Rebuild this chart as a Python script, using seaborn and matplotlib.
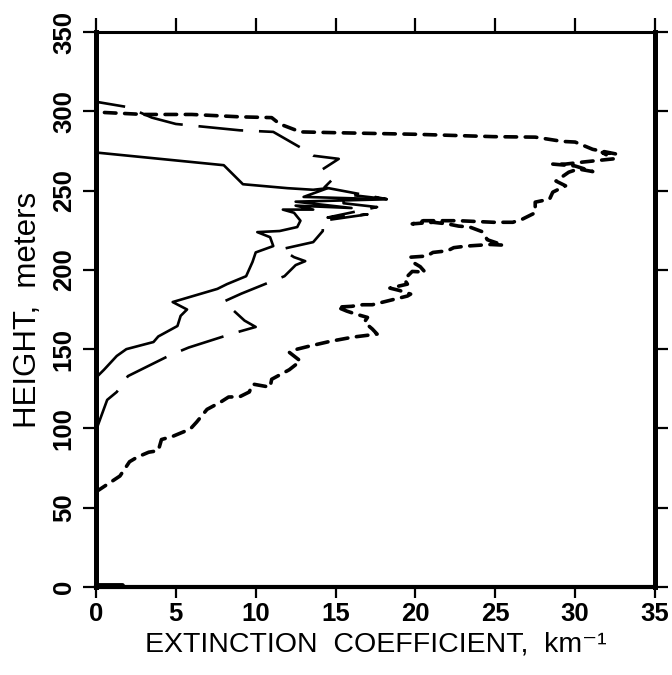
import matplotlib
matplotlib.use("Agg")
import matplotlib.pyplot as plt
import seaborn as sns

# Extinction profiles: x = extinction coefficient (km^-1), y = height (m)
solid_x = [0.0, 0.1, 0.5, 1.3, 1.9, 3.6, 3.9, 5.1, 5.3, 5.7, 4.8, 7.6, 8.2, 9.4,
           9.8, 10.0, 11.1, 10.9, 10.1, 11.5, 12.6, 12.8, 12.4, 11.7, 13.6, 12.5,
           16.0, 12.5, 18.2, 13.0, 14.5, 13.6, 12.0, 9.2, 8.6, 8.0, 0.0]
solid_y = [132, 133, 137, 145.7, 150, 154.5, 158, 164.6, 171, 175, 179.7, 188,
           191, 196, 205, 211, 215, 220.6, 223.8, 224.5, 227, 231, 236, 238, 238,
           240.5, 239, 243, 244.5, 246, 251.5, 250.5, 251.5, 254, 260, 266, 274]

longdash_x = [0.0, 0.1, 0.7, 1.3, 2.0, 4.6, 5.8, 8.6, 10.0, 9.3, 8.0, 9.1, 11.8,
              12.5, 13.1, 12.4, 11.6, 13.6, 14.2, 14.2, 17.0, 14.5, 17.6, 15.5,
              15.5, 18.2, 14.3, 14.8, 14.2, 15.2, 13.6, 13.0, 11.1, 9.0, 7.0, 5.0,
              3.5, 2.0, 0.0]
longdash_y = [100, 101.5, 118, 123, 133, 146, 151, 160, 164, 168, 180, 185, 196,
              203, 205.5, 208, 213, 217.5, 224.5, 231, 235, 233, 239.6, 242,
              247.8, 244.6, 252, 257, 263.5, 270, 272, 276, 287, 288, 290, 292,
              296, 302.6, 306]

shortdash_x = [0.0, 0.9, 1.5, 2.1, 2.6, 3.3, 3.9, 4.1, 4.8, 5.9, 6.3, 6.95, 7.8,
               8.3, 9.0, 9.6, 9.8, 10.9, 11.0, 12.1, 12.8, 12.1, 12.6, 13.4, 14.7,
               16.1, 17.6, 17.3, 16.8, 17.0, 16.3, 15.7, 15.1, 16.0, 16.7, 17.3,
               18.1, 19.5, 19.7, 19.0, 18.4, 19.5, 19.3, 19.8, 20.6, 20.3, 19.8,
               19.7, 20.7, 21.1, 22.0, 22.4, 23.2, 24.7, 25.5, 24.5, 24.2, 23.4,
               22.7, 22.0, 21.1, 19.8, 20.5, 22.7, 24.9, 26.1, 26.7, 27.5, 27.5,
               28.4, 28.6, 29.4, 28.8, 29.6, 30.2, 31.1, 30.0, 28.6, 29.4, 30.5,
               32.4, 31.7, 32.6, 31.1, 30.0, 29.2, 27.5, 24.9, 20.0, 15.0, 12.8,
               11.5, 11.0, 9.0, 6.0, 3.0, 0.0]
shortdash_y = [60, 66, 70, 79, 82, 85, 86, 93, 95, 99.6, 104, 112, 116.6, 119.8,
               120, 123, 128, 126, 131, 137, 142.5, 148, 150, 152, 155, 157.6,
               159.5, 162.7, 167, 170, 172, 174, 176.5, 177, 178, 178, 180, 183.5,
               184.7, 187, 188.5, 191, 194, 199, 198.6, 202, 205, 208, 208.7, 211,
               212, 214, 215, 216, 215.6, 219, 224, 227, 227.6, 229, 230, 229, 231,
               231, 230, 230, 232, 236, 242.7, 244.6, 249, 253, 256, 261.6, 263.6,
               262, 265.5, 266.7, 266.7, 268, 270, 274, 273, 276, 280.6, 281,
               283.7, 284, 285.5, 286.5, 287, 292, 296, 296.5, 298, 298, 299.5]

ground_x = [0.0, 1.6]
ground_y = [1.5, 1.5]

x_ticks = [0, 5, 10, 15, 20, 25, 30, 35]
y_ticks = [0, 50, 100, 150, 200, 250, 300, 350]

sns.set_theme(style="ticks")
plt.rcParams["font.family"] = ["Liberation Sans", "DejaVu Sans"]
plt.rcParams.update({"text.color": "black", "axes.labelcolor": "black",
                     "xtick.color": "black", "ytick.color": "black",
                     "axes.edgecolor": "black"})

fig = plt.figure(figsize=(6.72, 6.75), dpi=100)
ax = fig.add_axes([96 / 672, 1 - 587 / 675, (655 - 96) / 672, (587 - 32) / 675])

sns.lineplot(x=solid_x, y=solid_y, sort=False, estimator=None, color="black",
             lw=1.9, ax=ax)
sns.lineplot(x=longdash_x, y=longdash_y, sort=False, estimator=None, color="black",
             lw=1.9, ax=ax)
ax.lines[-1].set_linestyle((0, (17, 6)))
sns.lineplot(x=shortdash_x, y=shortdash_y, sort=False, estimator=None, color="black",
             lw=2.6, ax=ax)
ax.lines[-1].set_linestyle((0, (3.2, 2.4)))
ax.lines[-1].set_dash_capstyle("round")
sns.lineplot(x=ground_x, y=ground_y, sort=False, estimator=None, color="black",
             lw=3.5, ax=ax)

ax.set_xlim(0, 35)
ax.set_ylim(0, 350)
ax.set_xticks(x_ticks)
ax.set_yticks(y_ticks)
ax.set_xticklabels([str(v) for v in x_ticks], fontsize=18.5, fontweight="bold")
ax.set_yticklabels([str(v) for v in y_ticks], fontsize=18.5, fontweight="bold",
                   rotation=90, va="center")

for side, w in {"left": 3.6, "right": 3.6, "bottom": 3.0, "top": 2.2}.items():
    ax.spines[side].set_visible(True)
    ax.spines[side].set_linewidth(w)
    ax.spines[side].set_color("black")

ax.tick_params(axis="x", which="both", direction="out", length=8, width=1.6,
               top=True, labeltop=False, pad=2.5)
ax.tick_params(axis="y", which="both", direction="out", length=9.5, width=1.6,
               right=True, labelright=False, pad=5)
# top ticks stick out a little further than the bottom ones
for t in ax.xaxis.get_major_ticks():
    t.tick2line.set_markersize(10)

ax.set_xlabel("EXTINCTION  COEFFICIENT,  km⁻¹", fontsize=20.5, labelpad=4)
ax.set_ylabel("HEIGHT,  meters", fontsize=22.5)
ax.yaxis.set_label_coords(-0.095, 0.5)

fig.savefig("out.png", dpi=100)
